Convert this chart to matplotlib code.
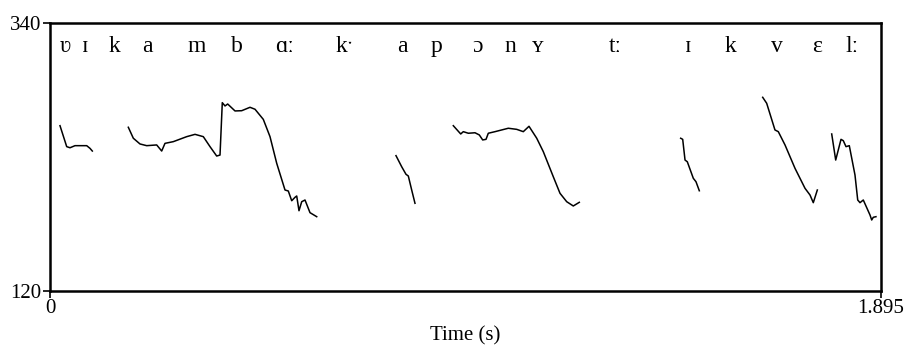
import matplotlib
matplotlib.use('Agg')
import matplotlib.pyplot as plt

plt.rcParams['font.family'] = ['Liberation Serif', 'DejaVu Serif']

# pitch track (time s, F0 Hz), one list per voiced stretch
seg_t = [
    [0.0228, 0.0381, 0.0456, 0.0570, 0.0837, 0.0912, 0.0965],
    [0.1786, 0.1900, 0.2052, 0.2205, 0.2433, 0.2547, 0.2622, 0.2812, 0.3117, 0.3307,
     0.3496, 0.3649, 0.3801, 0.3877, 0.3929, 0.3991, 0.4052, 0.4219, 0.4371, 0.4561,
     0.4675, 0.4864, 0.5017, 0.5170, 0.5359, 0.5434, 0.5512, 0.5587, 0.5626, 0.5678,
     0.5740, 0.5815, 0.5929, 0.6082],
    [0.7890, 0.8020, 0.8118, 0.8171, 0.8248, 0.8323],
    [0.9197, 0.9366, 0.9425, 0.9539, 0.9692, 0.9790, 0.9867, 0.9943, 0.9995, 1.0148,
     1.0451, 1.0643, 1.0793, 1.0923, 1.1099, 1.1249, 1.1477, 1.1630, 1.1783, 1.1933,
     1.2070],
    [1.4382, 1.4428, 1.4481, 1.4533, 1.4670, 1.4731, 1.4807],
    [1.6252, 1.6343, 1.6532, 1.6608, 1.6761, 1.6989, 1.7217, 1.7331, 1.7406, 1.7498],
    [1.7826, 1.7917, 1.8038, 1.8090, 1.8152, 1.8227, 1.8357, 1.8419, 1.8471, 1.8546,
     1.8699, 1.8738, 1.8774, 1.8835],
]
seg_f0 = [
    [255.7, 238.5, 237.6, 239.3, 239.3, 237.1, 234.9],
    [254.4, 245.4, 240.7, 239.3, 239.9, 234.9, 241.2, 242.6, 246.7, 248.6,
     246.7, 238.5, 230.8, 231.6, 274.6, 271.9, 273.5, 267.8, 268.0, 270.8,
     269.2, 260.9, 246.7, 224.8, 202.9, 202.1, 194.1, 196.9, 198.0, 185.9,
     193.3, 194.7, 184.3, 181.0],
    [231.1, 222.0, 215.8, 214.4, 202.9, 192.0],
    [255.7, 248.9, 250.8, 249.5, 249.9, 248.1, 244.0, 244.5, 249.5, 250.8,
     253.6, 252.7, 250.8, 255.2, 245.4, 234.4, 213.8, 200.2, 193.3, 189.8,
     192.8],
    [245.4, 244.5, 227.5, 226.1, 212.5, 209.7, 202.3],
    [279.0, 274.1, 252.2, 250.8, 239.9, 220.7, 204.3, 198.8, 192.5, 202.9],
    [248.9, 227.5, 244.5, 243.4, 238.5, 239.3, 215.2, 194.7, 192.5, 194.7,
     182.4, 178.3, 180.5, 181.0],
]

# segment labels along the top
phones = ['ʋ', 'ɪ', 'k', 'a', 'm', 'b', 'ɑː', 'kˑ', 'a', 'p', 'ɔ', 'n', 'ʏ', 'tː',
          'ɪ', 'k', 'v', 'ɛ', 'lː']
phone_t = [0.034, 0.080, 0.148, 0.223, 0.335, 0.426, 0.536, 0.673, 0.803, 0.882,
           0.976, 1.049, 1.113, 1.288, 1.455, 1.551, 1.658, 1.749, 1.829]

t_max = 1.895
f_min, f_max = 120, 340

fig = plt.figure(figsize=(9.05, 3.47), dpi=100)
ax = fig.add_axes([50/905, 56/347, 831/905, 268/347])
for t, f in zip(seg_t, seg_f0):
    ax.plot(t, f, color='black', lw=1.1)
for p, t in zip(phones, phone_t):
    ax.text(t, 321, p, ha='center', va='center', fontsize=17)

ax.set_xlim(0, t_max); ax.set_ylim(f_min, f_max)
ax.set_xticks([0, t_max]); ax.set_xticklabels(['0', '1.895'])
ax.set_yticks([f_min, f_max]); ax.set_yticklabels(['120', '340'])
ax.tick_params(direction='out', length=5, width=1.2, labelsize=15, pad=1)
for s in ax.spines.values(): s.set_linewidth(1.8)
ax.set_xlabel('Time (s)', fontsize=15, labelpad=6)
fig.savefig('out.png', dpi=100)
